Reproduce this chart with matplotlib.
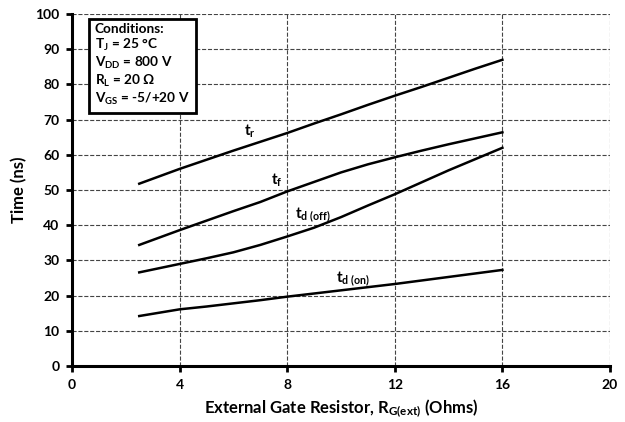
import numpy as np
import matplotlib
matplotlib.use("Agg")
from matplotlib import pyplot as plt

plt.rcParams['font.family'] = ['Lato', 'DejaVu Sans']
plt.rcParams['font.weight'] = 'bold'
plt.rcParams['mathtext.fontset'] = 'custom'
plt.rcParams['mathtext.rm'] = 'Lato:bold'
plt.rcParams['mathtext.it'] = 'Lato:bold'
plt.rcParams['mathtext.bf'] = 'Lato:bold'
plt.rcParams['mathtext.default'] = 'rm'

# gate resistance (Ohms)
rg = [2.5, 4, 5, 6, 7, 8, 9, 10, 11, 12, 13, 14, 15, 16]
# switching times (ns)
t_r = [51.8, 56.0, 58.6, 61.2, 63.7, 66.2, 68.9, 71.5, 74.2, 76.8, 79.3, 81.9, 84.5, 87.0]
t_f = [34.4, 38.6, 41.3, 44.0, 46.6, 49.6, 52.3, 55.0, 57.3, 59.3, 61.2, 63.0, 64.7, 66.4]
td_off = [26.6, 29.0, 30.6, 32.3, 34.4, 36.8, 39.3, 42.3, 45.6, 48.8, 52.2, 55.6, 58.8, 62.0]
td_on = [14.2, 16.1, 16.9, 17.8, 18.7, 19.7, 20.6, 21.5, 22.4, 23.3, 24.3, 25.3, 26.3, 27.3]

xticks = [0, 4, 8, 12, 16, 20]
yticks = list(range(0, 101, 10))

fig = plt.figure(figsize=(6.25, 4.22), dpi=100)
ax = fig.add_axes([0.1152, 0.1327, 0.8608, 0.834])

for y in (t_r, t_f, td_off, td_on):
    ax.plot(rg, y, color='black', lw=1.8, solid_joinstyle='round')

ax.set_xlim(0, 20)
ax.set_ylim(0, 100)
ax.set_xticks(xticks)
ax.set_yticks(yticks)
ax.grid(True, ls='--', color='#444444', lw=0.8)
ax.spines['top'].set_visible(False)
ax.spines['right'].set_visible(False)
ax.spines['left'].set_linewidth(2.2)
ax.spines['bottom'].set_linewidth(2.2)
ax.tick_params(direction='out', length=4, width=2, labelsize=10, pad=5)
for lbl in ax.get_xticklabels() + ax.get_yticklabels():
    lbl.set_fontweight('bold')

ax.set_ylabel('Time (ns)', fontsize=12, fontweight='bold', labelpad=6)
ax.set_xlabel('External Gate Resistor, R$_{G(ext)}$ (Ohms)', fontsize=12,
              fontweight='bold', labelpad=5)

# curve labels
ax.text(6.4, 65.5, 't$_r$', fontsize=11, fontweight='bold')
ax.text(7.4, 51.5, 't$_f$', fontsize=11, fontweight='bold')
ax.text(8.3, 42.0, 't$_{d\\ (off)}$', fontsize=11, fontweight='bold')
ax.text(9.8, 24.0, 't$_{d\\ (on)}$', fontsize=11, fontweight='bold')

cond = ('Conditions:\nT$_J$ = 25 °C\nV$_{DD}$ = 800 V\n'
        'R$_L$ = 20 Ω\nV$_{GS}$ = -5/+20 V')
ax.text(0.85, 97.4, cond, fontsize=9.8, fontweight='bold', va='top',
        linespacing=1.15,
        bbox=dict(boxstyle='square,pad=0.45', fc='white', ec='black', lw=2))

plt.savefig('out.png', dpi=100)
